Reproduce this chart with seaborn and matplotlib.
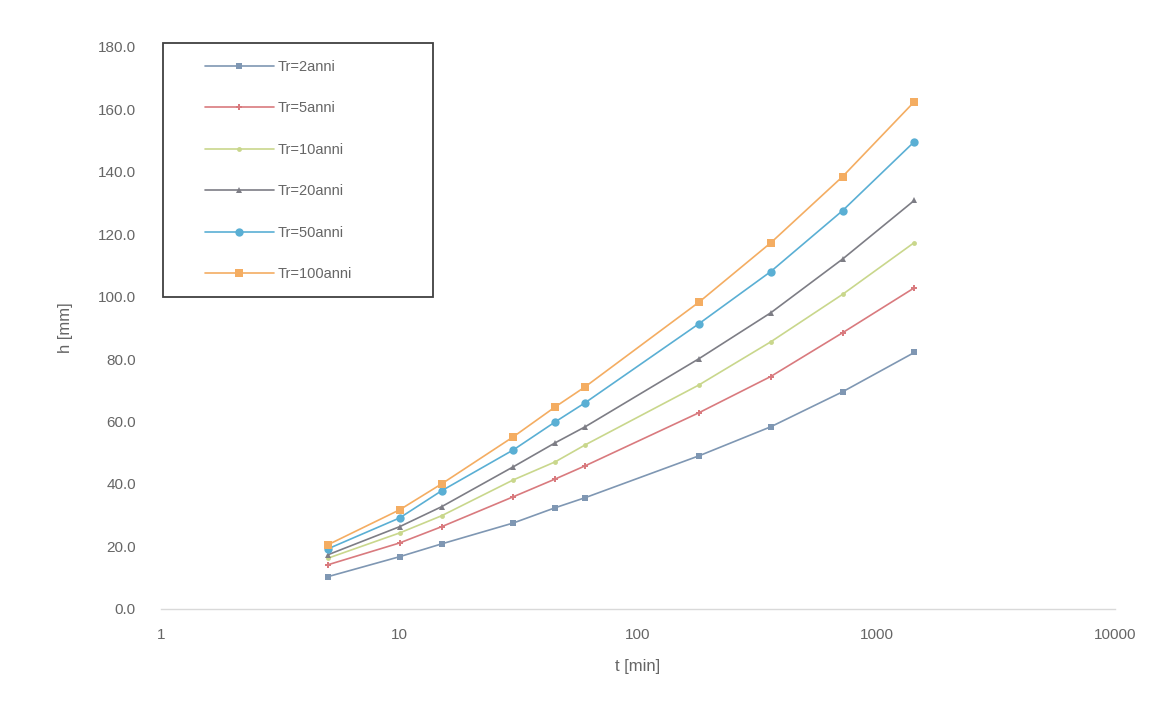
import matplotlib
matplotlib.use("Agg")
import matplotlib.pyplot as plt
import seaborn as sns
import pandas as pd
from matplotlib.patches import Rectangle
from matplotlib.ticker import FixedLocator, FixedFormatter, NullLocator, FormatStrFormatter

t_min = [5, 10, 15, 30, 45, 60, 180, 360, 720, 1440]
h_tr2 = [10.3, 16.7, 20.8, 27.5, 32.4, 35.6, 49.0, 58.3, 69.5, 82.1]
h_tr5 = [14.1, 21.1, 26.3, 35.9, 41.6, 45.8, 62.8, 74.4, 88.4, 102.8]
h_tr10 = [16.2, 24.3, 29.8, 41.3, 47.1, 52.5, 71.7, 85.5, 100.7, 117.3]
h_tr20 = [17.3, 26.3, 32.7, 45.5, 53.2, 58.3, 80.1, 94.8, 112.0, 130.8]
h_tr50 = [19.2, 29.1, 37.8, 50.9, 59.9, 66.0, 91.3, 108.0, 127.5, 149.6]
h_tr100 = [20.5, 31.7, 40.0, 55.1, 64.7, 71.1, 98.2, 117.2, 138.4, 162.4]
labels = ["Tr=2anni", "Tr=5anni", "Tr=10anni", "Tr=20anni", "Tr=50anni", "Tr=100anni"]
x_ticks = [1, 10, 100, 1000, 10000]
y_ticks = [0, 20, 40, 60, 80, 100, 120, 140, 160, 180]

series = [h_tr2, h_tr5, h_tr10, h_tr20, h_tr50, h_tr100]
df = pd.DataFrame({
    "t": t_min * len(series),
    "h": [v for s in series for v in s],
    "serie": [lab for lab, s in zip(labels, series) for _ in s],
})

colors = ["#7f97b3", "#d97a7e", "#c9d78c", "#7d7d85", "#5aafd4", "#f4ad62"]
markers = ["s", "P", "o", "^", "o", "s"]
msizes = [4.5, 4.5, 3.5, 4.5, 6, 6]

sns.set_style("white")
plt.rcParams["font.family"] = ["Liberation Sans", "DejaVu Sans"]

fig = plt.figure(figsize=(11.75, 7.08), dpi=100)
ax = fig.add_axes([0.137, 0.140, 0.812, 0.794])

for lab, col, mk, ms in zip(labels, colors, markers, msizes):
    sub = df[df["serie"] == lab]
    sns.lineplot(data=sub, x="t", y="h", ax=ax, color=col, marker=mk,
                 markersize=ms, markeredgewidth=0, linewidth=1.2, label=lab,
                 estimator=None, sort=False)

ax.set_xscale("log")
ax.set_xlim(1, 10000)
ax.set_ylim(0, 180)
ax.xaxis.set_major_locator(FixedLocator(x_ticks))
ax.xaxis.set_major_formatter(FixedFormatter([str(v) for v in x_ticks]))
ax.xaxis.set_minor_locator(NullLocator())
ax.yaxis.set_major_locator(FixedLocator(y_ticks))
ax.yaxis.set_major_formatter(FormatStrFormatter("%.1f"))

for s in ["top", "right", "left"]:
    ax.spines[s].set_visible(False)
ax.spines["bottom"].set_color("#d9d9d9")
ax.spines["bottom"].set_linewidth(1.0)
ax.tick_params(axis="both", colors="#666666", labelsize=11, length=0)
ax.tick_params(axis="x", pad=14)
ax.tick_params(axis="y", pad=18)

ax.set_xlabel("t [min]", fontsize=12, color="#666666", labelpad=12)
ax.set_ylabel("h [mm]", fontsize=12, color="#666666", labelpad=18)

leg = ax.legend(loc="upper left", bbox_to_anchor=(205 / 1175, 1 - 60 / 708),
                bbox_transform=fig.transFigure, borderaxespad=0, borderpad=0,
                fontsize=10.5, labelspacing=1.88, handlelength=4.7, handletextpad=0.25,
                frameon=False)
for txt in leg.get_texts():
    txt.set_color("#666666")

fig.add_artist(Rectangle((163 / 1175, 1 - 297 / 708), 270 / 1175, 254 / 708,
                         transform=fig.transFigure, fill=False,
                         edgecolor="#404040", linewidth=1.3, zorder=5))

fig.savefig("out.png", dpi=100, facecolor="white")
